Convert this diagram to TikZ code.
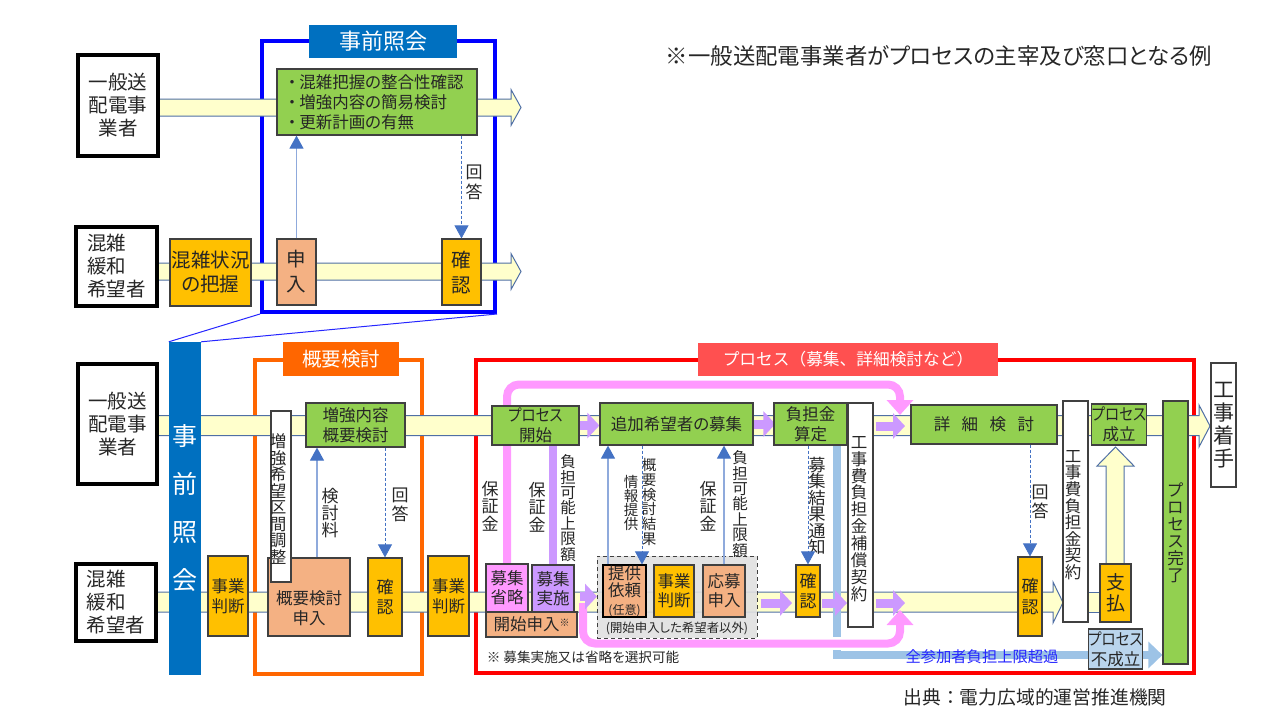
\documentclass[tikz,border=0pt]{standalone}
\usepackage{fontspec}
\setmainfont[RawFeature=+palt]{Noto Sans CJK JP}
\newfontfamily\fullcjk{Noto Sans CJK JP}
\usepackage{tikz}
\usetikzlibrary{arrows.meta, backgrounds, calc}
\definecolor{bandyellow}{HTML}{FFFFCC}
\definecolor{bandblue}{HTML}{4F6FA5}
\definecolor{boxgreen}{HTML}{92D050}
\definecolor{boxorange}{HTML}{FFC000}
\definecolor{boxsalmon}{HTML}{F4B183}
\definecolor{arrowpurple}{HTML}{CC99FF}
\definecolor{arrowpink}{HTML}{FF99FF}
\definecolor{arrowblue}{HTML}{9DC3E6}
\definecolor{linelight}{HTML}{8FAADC}
\definecolor{headblue}{HTML}{4472C4}
\definecolor{inktext}{HTML}{262626}
\definecolor{titleblue}{HTML}{0070C0}
\definecolor{titleorange}{HTML}{FF6600}
\definecolor{titlered}{HTML}{FF5050}
\newcommand{\narrowkana}[1]{\scalebox{0.88}[1]{#1}}
\tikzset{
  txt/.style 2 args={font=\fontsize{#1}{#2}\selectfont, text=inktext},
  plainbox/.style={draw=black!75, line width=1.2pt, align=center, inner sep=0pt, minimum width=#1},
  greenbox/.style={plainbox=#1, fill=boxgreen},
  orangebox/.style={plainbox=#1, fill=boxorange},
  salmonbox/.style={plainbox=#1, fill=boxsalmon},
  whitebox/.style={plainbox=#1, fill=white},
  namebox/.style={draw=black, line width=4pt, fill=white, align=left, inner sep=0pt, minimum width=#1},
  titlebox/.style={fill=#1, align=center, inner sep=0pt},
  framebox/.style={draw=#1, line width=4pt, inner sep=0pt},
  vlabel/.style={align=center, inner sep=0pt},
  band/.style={fill=bandyellow, draw=bandblue, line width=1pt},
  upline/.style={draw=linelight, line width=1.2pt, -{Triangle[width=14pt,length=13pt,color=headblue]}},
  dashline/.style={draw=headblue, line width=0.7pt, densely dashed, -{Triangle[width=14pt,length=13pt,color=headblue]}},
  purplearrow/.style={draw=arrowpurple, line width=9pt, -{Triangle[width=25pt,length=12pt]}},
  pinkarrow/.style={draw=arrowpink, line width=8pt, rounded corners=12pt, -{Triangle[width=26pt,length=15pt]}},
}
\begin{document}
\begin{tikzpicture}[x=1pt,y=-1pt]
\useasboundingbox (0,0) rectangle (1280,720);
% Top diagram
\node[txt={22.4}{23}, inner sep=0pt] (note) at (939,56) {※一般送配電事業者がプロセスの主宰及び窓口となる例};
\node[titlebox=titleblue, minimum width=148pt, minimum height=33pt, font=\fontsize{22}{22}\selectfont, text=white] (title1) at (383,41.5) {事前照会};
\node[namebox=80pt, minimum height=101pt, txt={19.5}{23}, align=center] (gen1) at (118,105.5) {一般送\\配電事\\業者};
\node[namebox=81pt, minimum height=79pt, txt={19.5}{23}] (hope1) at (116.5,266.5) {混雑\\緩和\\希望者};
\node[greenbox=200pt, minimum height=66pt, txt={16.5}{20}, align=left, text width=178pt] (check) at (377,102) {・\kern3pt 混雑把握の整合性確認\\・\kern3pt 増強内容の簡易検討\\・\kern3pt 更新計画の有無};
\node[orangebox=81pt, minimum height=67pt, txt={19.5}{24}] (grasp) at (210.5,272.5) {混雑状況\\の把握};
\node[salmonbox=39pt, minimum height=66pt, txt={19.5}{25}] (apply1) at (296.5,272) {申\\入};
\node[orangebox=39pt, minimum height=66pt, txt={19.5}{25}] (conf1) at (461.5,272) {確\\認};
\node[vlabel, txt={17}{20}] (ans1) at (474,182) {回\\答};
% Lower left
\node[titlebox=titleblue, minimum width=32pt, minimum height=333pt, font=\fontsize{25}{48}\selectfont, text=white] (bar) at (185,508.5) {事\\前\\照\\会};
\node[namebox=79pt, minimum height=120pt, txt={19.5}{23}, align=center] (gen2) at (117.5,424) {一般送\\配電事\\業者};
\node[namebox=80pt, minimum height=77pt, txt={19.5}{23}] (hope2) at (116,602.5) {混雑\\緩和\\希望者};
\node[titlebox=titleorange, minimum width=116pt, minimum height=34pt, font=\fontsize{19.5}{20}\selectfont, text=white] (title2) at (341,359) {概要検討};
\node[orangebox=40pt, minimum height=80pt, txt={16.5}{20}] (biz1) at (228,596) {事業\\判断};
\node[salmonbox=82pt, minimum height=78pt] (apply2) at (309,597) {};
\node[vlabel, txt={16.5}{20}] (apply2txt) at (309,608) {概要検討\\申入};
\node[whitebox=20pt, minimum height=171pt] (adjust) at (281,496.5) {};
\node[vlabel, txt={16.5}{16.5}] (adjusttxt) at (278,499) {増\\強\\希\\望\\区\\間\\調\\整};
\node[greenbox=99pt, minimum height=44pt, txt={16.5}{19.5}] (outline) at (355.5,425) {増強内容\\概要検討};
\node[orangebox=34pt, minimum height=78pt, txt={17}{20}] (conf2) at (385,597) {確\\認};
\node[orangebox=41pt, minimum height=80pt, txt={16.5}{20}] (biz2) at (448.5,596) {事業\\判断};
\node[vlabel, txt={17}{16.7}] (fee) at (330,513) {検\\討\\料};
\node[vlabel, txt={17}{19}] (ans2) at (400,505) {回\\答};
% Process
\node[titlebox=titlered, minimum width=300pt, minimum height=33pt, font=\fontsize{16.7}{17}\fullcjk\selectfont, text=white] (title3) at (848,359.5) {プロセス（募集、詳細検討など）};
\node[greenbox=87pt, minimum height=39pt, txt={16.5}{19.5}] (start) at (535.5,425.5) {\narrowkana{プロセス}\\開始};
\node[greenbox=153pt, minimum height=42pt, txt={16.5}{20}] (recruit) at (676.5,424) {追加希望者の募集};
\node[greenbox=73pt, minimum height=42pt, txt={16.5}{20}] (calc) at (810.5,424) {負担金\\算定};
\node[whitebox=25pt, minimum height=224pt] (comp) at (860.5,515) {};
\node[vlabel, txt={16.5}{16.9}] (comptxt) at (859,519) {工\\事\\費\\負\\担\\金\\補\\償\\契\\約};
\node[greenbox=146pt, minimum height=39pt, txt={16.5}{20}] (detail) at (984,424.5) {{\spaceskip=11.5pt 詳 細 検 討}};
\node[whitebox=25pt, minimum height=221pt] (contract) at (1075.5,511.5) {};
\node[vlabel, txt={16.5}{16.6}] (contracttxt) at (1073,515) {工\\事\\費\\負\\担\\金\\契\\約};
\node[greenbox=52pt, minimum height=41pt, txt={16.5}{20}] (done) at (1119,424.5) {\narrowkana{プロセス}\\成立};
\node[greenbox=25pt, minimum height=263pt, txt={16.5}{17}] (finish) at (1175.5,532.5) {プ\\ロ\\セ\\ス\\完\\了};
\node[whitebox=25pt, minimum height=124pt, txt={21}{23}] (work) at (1223.5,425) {工\\事\\着\\手};
\node[plainbox=42pt, minimum height=48pt, fill=arrowpink, txt={16.5}{19}] (omit) at (507,588) {募集\\省略};
\node[plainbox=42pt, minimum height=47pt, fill=arrowpurple, txt={16.5}{19}] (exec) at (553,588.5) {募集\\実施};
\node[salmonbox=91pt, minimum height=25pt, txt={16.5}{16.5}] (startapp) at (531.5,624.5) {開始申入\raisebox{4pt}{\fontsize{10}{10}\selectfont ※}};
\node[draw=black!75, dash pattern=on 4pt off 3pt, line width=1pt, fill=black!12, fill opacity=0.9, minimum width=160pt, minimum height=82pt, inner sep=0pt] (group) at (677,597) {};
\node[salmonbox=43pt, minimum height=52pt, draw=black, txt={16.5}{17.5}] (provide) at (624.5,591) {提供\\依頼\\{\fontsize{12}{12}\selectfont (任意)}};
\node[orangebox=40pt, minimum height=52pt, txt={16.5}{19}] (biz3) at (674,591) {事業\\判断};
\node[salmonbox=42pt, minimum height=52pt, txt={16.5}{19}] (answer) at (724,591) {応募\\申入};
\node[vlabel, txt={12.4}{13}] (grouptxt) at (677,628) {(開始申入した希望者以外)};
\node[orangebox=24pt, minimum height=52pt, txt={17}{20}] (conf3) at (808,591) {確\\認};
\node[orangebox=24pt, minimum height=79pt, txt={17}{21}] (conf4) at (1030,596.5) {確\\認};
\node[orangebox=31pt, minimum height=58pt, txt={19}{21}] (pay) at (1115.5,593) {支\\払};
\node[plainbox=53pt, minimum height=40pt, fill=arrowblue!70, txt={16.5}{20}] (fail) at (1115.5,649) {\narrowkana{プロセス}\\不成立};
\node[vlabel, txt={13.6}{14}] (optnote) at (583,657) {※ 募集実施又は省略を選択可能};
\node[vlabel, font=\fontsize{15.3}{15.3}\selectfont, text=blue!85] (overflow) at (982,657) {全参加者負担上限超過};
\node[vlabel, font=\fontsize{18.8}{19}\fullcjk\selectfont, text=inktext] (source) at (1035,697) {出典：電力広域的運営推進機関};
% Side labels
\node[vlabel, txt={17}{17.5}] (dep1) at (490,506) {保\\証\\金};
\node[vlabel, txt={17}{17.5}] (dep2) at (537,507) {保\\証\\金};
\node[vlabel, txt={15.5}{15.4}] (cap1) at (568,508) {負\\担\\可\\能\\上\\限\\額};
\node[vlabel, txt={14.5}{14}] (info) at (631,503) {情\\報\\提\\供};
\node[vlabel, txt={14.5}{14.7}] (result) at (649,502) {概\\要\\検\\討\\結\\果};
\node[vlabel, txt={17}{17.5}] (dep3) at (708,506) {保\\証\\金};
\node[vlabel, txt={15.5}{15.4}] (cap2) at (740,504) {負\\担\\可\\能\\上\\限\\額};
\node[vlabel, txt={17}{16.5}] (notice) at (817,506) {募\\集\\結\\果\\通\\知};
\node[vlabel, txt={17}{19}] (ans3) at (1040,502) {回\\答};
% Connections
\draw[upline] (apply1.north) -- (check.south -| apply1.north);
\draw[dashline] (conf1.north |- check.south) -- (conf1.north);
\draw[upline] (apply2.north -| 317,0) -- (outline.south -| 317,0);
\draw[dashline] (conf2.north |- outline.south) -- (conf2.north);
\draw[upline] (provide.north -| 608,0) -- (recruit.south -| 608,0);
\draw[upline] (answer.north) -- (recruit.south -| answer.north);
\draw[dashline] (recruit.south -| 642,0) -- (provide.north -| 642,0);
\draw[dashline] (calc.south -| conf3.north) -- (conf3.north);
\draw[dashline] (detail.south -| conf4.north) -- (conf4.north);
\begin{scope}[on background layer]
% Frames
\node[framebox=blue, minimum width=233pt, minimum height=271pt] (frame1) at (378.5,176.5) {};
\node[framebox=titleorange, minimum width=167pt, minimum height=314pt] (frame2) at (338.5,517) {};
\node[framebox=red, minimum width=718pt, minimum height=313pt] (frame3) at (835,516.5) {};
\draw[blue!85, line width=1pt] (frame1.south west) -- (bar.north west);
\draw[blue!85, line width=1pt] (frame1.south east) -- (bar.north east);
% Bands
\foreach \y in {107.5,271.5} {
    \draw[band] (155,\y-8.5) -- (511,\y-8.5) -- (511,\y-18) -- (521,\y) -- (511,\y+18) -- (511,\y+8.5) -- (155,\y+8.5) -- cycle;
}
\draw[band] (155,415.5) -- (1199,415.5) -- (1199,405) -- (1210,426) -- (1199,447) -- (1199,435.5) -- (155,435.5) -- cycle;
\draw[band] (155,592) -- (1053,592) -- (1053,582) -- (1063,602.5) -- (1053,623) -- (1053,612) -- (155,612) -- cycle;
\draw[band] (1085,592) rectangle (1102,612);
\draw[band] (1106,566) -- (1106,466) -- (1097,466) -- (1115.5,447) -- (1134,466) -- (1124,466) -- (1124,566) -- cycle;
% Thick arrows
\draw[draw=arrowblue, line width=8pt] (calc.south -| 837,0) -- (837,637);
\draw[draw=arrowblue, line width=8pt, -{Triangle[width=26pt,length=14pt]}] (837,650) -- (837,655) -- (finish.west |- 837,655);
\draw[pinkarrow] (omit.north) -- (507,384.5) -- (900,384.5) -- (900,415);
\draw[pinkarrow] (583,603) -- (583,643.5) -- (900,643.5) -- (900,610);
\draw[draw=arrowpurple, line width=8pt] (exec.north) -- (start.south -| exec.north);
\draw[purplearrow] (start.east) -- (recruit.west |- start.east);
\draw[purplearrow] (recruit.east) -- ($(calc.west)+(2,0)$);
\draw[purplearrow] (580,596.5) -- (597,596.5);
\draw[purplearrow] (761,603) -- (792,603);
\draw[purplearrow] (822,603) -- (847,603);
\draw[purplearrow] (876,426) -- (905,426);
\draw[purplearrow] (876,603) -- (905,603);
\end{scope}
\end{tikzpicture}
\end{document}
